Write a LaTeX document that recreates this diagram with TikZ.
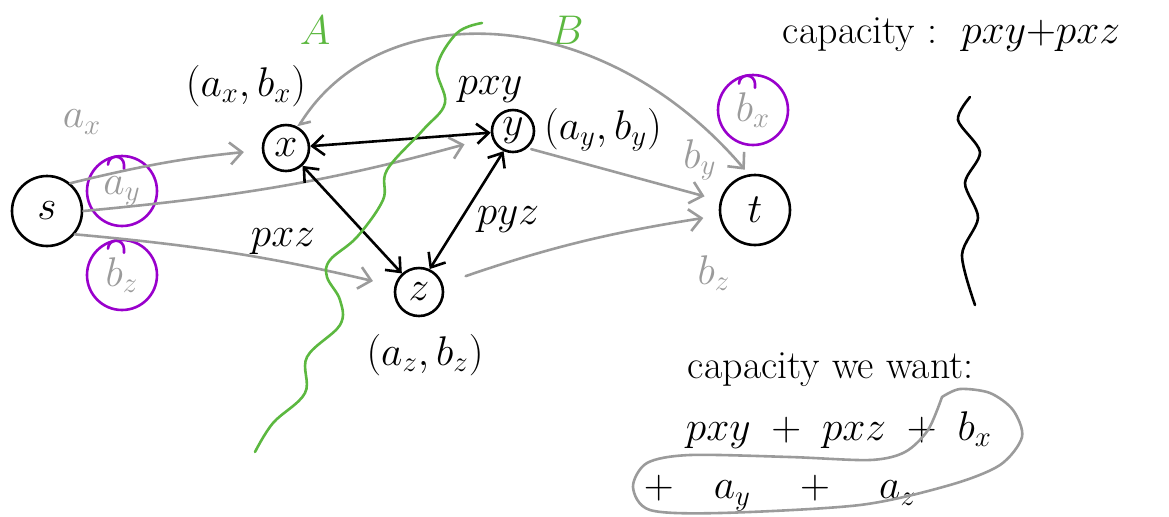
\documentclass[tikz,border=0pt]{standalone}
\usetikzlibrary{arrows.meta}

\definecolor{cutgreen}{RGB}{92,184,64}
\definecolor{flowgray}{RGB}{155,155,155}
\definecolor{ringpurple}{RGB}{153,0,204}

\tikzset{
  vertex/.style={draw, circle, inner sep=0pt, minimum size=#1},
  flow/.style={draw=flowgray, -{Straight Barb[length=6pt,width=11pt]}},
  pair/.style={{Straight Barb[length=6pt,width=10pt]}-{Straight Barb[length=6pt,width=10pt]}},
  ring/.style={draw=ringpurple, circle, inner sep=0pt, minimum size=#1, text=flowgray},
}

\begin{document}
\begin{tikzpicture}[x=0.5pt, y=-0.5pt, line width=1.3pt, line cap=round,
  font=\fontsize{20}{24}\selectfont]
\useasboundingbox (0,0) rectangle (1169,516);

\foreach \name/\xx/\yy/\d in {s/47/211/35, x/286/148/23, y/513/131/21, z/419/292/24, t/755/210/35}{
  \node[vertex=\d pt] (\name) at (\xx,\yy) {$\name$};
}

\foreach \name/\xx/\yy/\lab in {ry/122/191/a_y, rz/122/275/b_z, rx/753/110/b_x}{
  \node[ring=35pt] (\name) at (\xx,\yy) {\raisebox{-3pt}{$\lab$}};
  \draw[ringpurple] ([xshift=-7pt,yshift=-5pt]\name.north) arc[start angle=180, end angle=0, radius=4pt] -- ++(0,-2pt);
}

\foreach \name/\xx/\yy/\lab in {ax/82/122/a_x, by/700/160/b_y, bzt/714/273/b_z}{
  \node[text=flowgray] (\name) at (\xx,\yy) {$\lab$};
}

\node (xlab) at (246,86) {$(a_x,b_x)$};
\node (ylab) at (603,130) {$(a_y,b_y)$};
\node (zlab) at (425,355) {$(a_z,b_z)$};
\node (pxy) at (490,90) {$pxy$};
\node (pxz) at (283,242) {$pxz$};
\node (pyz) at (508,220) {$pyz$};
\node[text=cutgreen] (A) at (315,30) {$A$};
\node[text=cutgreen] (B) at (567,30) {$B$};

\node[anchor=west] (cap) at (775,35) {capacity :\ \ $pxy{+}pxz$};
\node[anchor=west] (want) at (680,370) {capacity we want:};
\node[anchor=west] (sum1) at (678,430) {$pxy\;+\;pxz\;+\;b_x$};
\node[anchor=west] (sum2) at (636,493) {$+\quad a_y\quad+\quad a_z$};

\draw[flow, shorten >=9pt] (s.50) to[bend left=4] (x);
\draw[flow, shorten >=14pt] (s.east) to[bend right=5] (y);
\draw[flow, shorten >=11pt] (s.-40) to[bend left=4] (z);
\draw[flow, shorten <=2pt, shorten >=8pt] (y.-50) -- (t);
\draw[flow, shorten <=12pt, shorten >=8pt] (z) to[bend left=5] (t);
\draw[flow, {Straight Barb[left,length=4pt,width=8pt]}-{Straight Barb[length=6pt,width=11pt]}, shorten >=3pt]
  (x.60) .. controls (380,-5) and (600,0) .. (t.100);

\draw[pair] (x) -- (y);
\draw[pair] (x) -- (z);
\draw[pair] (y.-115) -- (z.65);

\draw[cutgreen] plot[smooth, tension=0.6] coordinates {(482,23) (457,33) (437,67) (445,103) (423,130) (387,170) (383,200) (357,237) (330,260) (327,277) (340,300) (340,325) (307,357) (305,393) (273,423) (255,452)};
\draw plot[smooth] coordinates {(970,97) (958,120) (980,152) (965,183) (978,218) (962,255) (975,305)};
\draw[flowgray] plot[smooth] coordinates {(942,397) (960,389) (990,393) (1013,410) (1022,437) (1000,465) (950,485) (860,505) (720,513) (650,510) (633,487) (647,463) (690,455) (790,457) (870,460) (905,452) (928,430) (942,397)};
\end{tikzpicture}
\end{document}
